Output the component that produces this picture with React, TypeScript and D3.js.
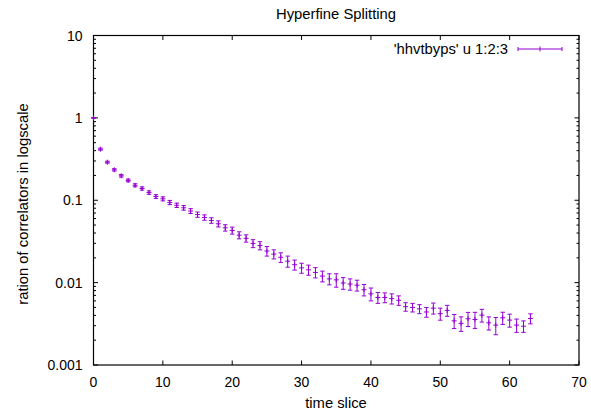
import React from "react";
import * as d3 from "d3";

const W = 591;
const H = 410;

const titleText = "Hyperfine Splitting";
const xLabel = "time slice";
const yLabel = "ration of correlators in logscale";
const legendLabel = "'hhvtbyps' u 1:2:3";

const xTicks = [0, 10, 20, 30, 40, 50, 60, 70];
const yTicks = [0.001, 0.01, 0.1, 1, 10];
const yTickLabels = ["0.001", "0.01", "0.1", "1", "10"];

const tValues = [
  0, 1, 2, 3, 4, 5, 6, 7, 8, 9, 10, 11, 12, 13, 14, 15, 16, 17, 18, 19, 20,
  21, 22, 23, 24, 25, 26, 27, 28, 29, 30, 31, 32, 33, 34, 35, 36, 37, 38, 39,
  40, 41, 42, 43, 44, 45, 46, 47, 48, 49, 50, 51, 52, 53, 54, 55, 56, 57, 58,
  59, 60, 61, 62, 63,
];

const ratioValues = [
  1.0, 0.417, 0.29, 0.234, 0.198, 0.174, 0.152, 0.139, 0.124, 0.111, 0.104,
  0.094, 0.087, 0.081, 0.074, 0.067, 0.0618, 0.0569, 0.0518, 0.0463, 0.043,
  0.0377, 0.0345, 0.0299, 0.0282, 0.0242, 0.0222, 0.0203, 0.0182, 0.0165,
  0.0151, 0.0143, 0.0133, 0.012, 0.0111, 0.0108, 0.0099, 0.0096, 0.0093,
  0.0082, 0.0073, 0.0066, 0.0066, 0.0064, 0.0061, 0.0051, 0.005, 0.0048,
  0.0044, 0.0049, 0.0042, 0.0046, 0.00344, 0.0032, 0.00364, 0.00357, 0.00403,
  0.00325, 0.00305, 0.00374, 0.00351, 0.00305, 0.00296, 0.00367,
];

const errValues = [
  0.007, 0.012, 0.008, 0.0075, 0.0069, 0.0066, 0.0064, 0.0062, 0.0059,
  0.0057, 0.0058, 0.0055, 0.0053, 0.0052, 0.005, 0.0049, 0.0046, 0.0044,
  0.0044, 0.0041, 0.0042, 0.0037, 0.0035, 0.0033, 0.0032, 0.0032, 0.0028,
  0.0027, 0.0028, 0.0023, 0.0021, 0.002, 0.0019, 0.0018, 0.0017, 0.002,
  0.0016, 0.0015, 0.0014, 0.0013, 0.0013, 0.001, 0.0009, 0.0009, 0.0008,
  0.0006, 0.0006, 0.0006, 0.0006, 0.00075, 0.0007, 0.0007, 0.00067, 0.00064,
  0.00071, 0.00079, 0.00071, 0.00059, 0.00072, 0.00063, 0.00063, 0.00056,
  0.00047, 0.00051,
];

const COLOR = "#9400d3";
const FONT = "'Liberation Sans', Arial, Helvetica, sans-serif";
const FS_TICK = 14;
const FS_TEXT = 14.8;

const left = 93.5;
const right = 579;
const top = 35.5;
const bottom = 365;

export default function App() {
  const x = d3.scaleLinear().domain([0, 70]).range([left, right]);
  const y = d3.scaleLog().domain([0.001, 10]).range([bottom, top]);

  const minorY: number[] = [];
  for (let e = -3; e < 1; e++) {
    for (let k = 2; k <= 9; k++) minorY.push(k * Math.pow(10, e));
  }

  const majorLen = 4.5;
  const minorLen = 2.5;
  const cap = 2.2;
  const ps = 2.5;

  const legY = 49;
  const legX1 = 518;
  const legX2 = 562;
  const legMid = (legX1 + legX2) / 2;

  return (
    <svg
      width={W}
      height={H}
      style={{ position: "fixed", left: 0, top: 0, background: "#fff" }}
      fontFamily={FONT}
    >
      <rect x={0} y={0} width={W} height={H} fill="#fff" />
      <g stroke="#000" strokeWidth={1}>
        {xTicks.map((t) => (
          <g key={"xt" + t}>
            <line x1={x(t)} x2={x(t)} y1={bottom} y2={bottom - majorLen} />
            <line x1={x(t)} x2={x(t)} y1={top} y2={top + majorLen} />
          </g>
        ))}
        {yTicks.map((t) => (
          <g key={"yt" + t}>
            <line x1={left} x2={left + majorLen} y1={y(t)} y2={y(t)} />
            <line x1={right} x2={right - majorLen} y1={y(t)} y2={y(t)} />
          </g>
        ))}
        {minorY.map((t, i) => (
          <g key={"ym" + i}>
            <line x1={left} x2={left + minorLen} y1={y(t)} y2={y(t)} />
            <line x1={right} x2={right - minorLen} y1={y(t)} y2={y(t)} />
          </g>
        ))}
      </g>
      <rect
        x={left}
        y={top}
        width={right - left}
        height={bottom - top}
        fill="none"
        stroke="#000"
        strokeWidth={1.2}
      />
      <g fontSize={FS_TICK} fill="#000">
        {xTicks.map((t) => (
          <text key={"xl" + t} x={x(t)} y={387} textAnchor="middle">
            {t}
          </text>
        ))}
        {yTicks.map((t, i) => (
          <text key={"yl" + t} x={82.5} y={y(t) + 5} textAnchor="end">
            {yTickLabels[i]}
          </text>
        ))}
      </g>
      <text x={336} y={19} fontSize={FS_TEXT} textAnchor="middle" fill="#000">
        {titleText}
      </text>
      <text x={336} y={408} fontSize={FS_TEXT} textAnchor="middle" fill="#000">
        {xLabel}
      </text>
      <text
        transform={`translate(27.5, 204) rotate(-90)`}
        fontSize={FS_TEXT}
        textAnchor="middle"
        fill="#000"
      >
        {yLabel}
      </text>
      <g stroke={COLOR} strokeWidth={1} fill="none">
        {tValues.map((t, i) => {
          const v = ratioValues[i];
          const e = errValues[i];
          const cx = x(t);
          const cy = y(v);
          const yHi = y(v + e);
          const yLo = y(Math.max(v - e, 1e-6));
          return (
            <g key={"p" + i}>
              <line x1={cx} x2={cx} y1={yHi} y2={yLo} />
              <line x1={cx - cap} x2={cx + cap} y1={yHi} y2={yHi} />
              <line x1={cx - cap} x2={cx + cap} y1={yLo} y2={yLo} />
              <line x1={cx - ps} x2={cx + ps} y1={cy} y2={cy} />
              <line x1={cx} x2={cx} y1={cy - ps} y2={cy + ps} />
            </g>
          );
        })}
      </g>
      <text x={508} y={legY + 5} fontSize={FS_TEXT} textAnchor="end" fill="#000">
        {legendLabel}
      </text>
      <g stroke={COLOR} strokeWidth={1}>
        <line x1={legX1} x2={legX2} y1={legY} y2={legY} />
        <line x1={legX1} x2={legX1} y1={legY - 2} y2={legY + 2} />
        <line x1={legX2} x2={legX2} y1={legY - 2} y2={legY + 2} />
        <line x1={legMid} x2={legMid} y1={legY - ps} y2={legY + ps} />
      </g>
    </svg>
  );
}
